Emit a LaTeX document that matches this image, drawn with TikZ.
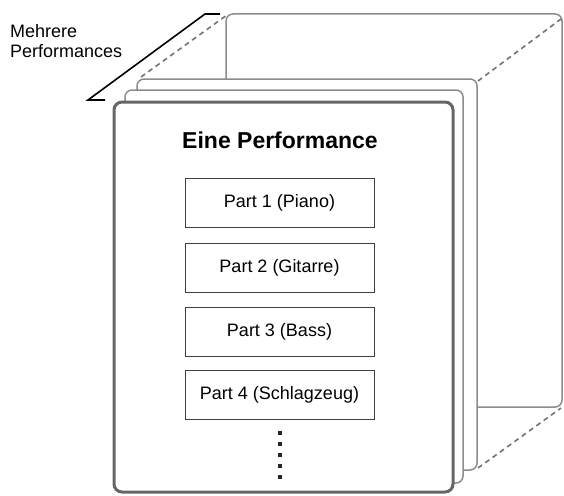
\documentclass[tikz,border=0pt]{standalone}
\usepackage{fontspec}
\setmainfont{Liberation Sans}
\begin{document}
\begin{tikzpicture}[x=1pt,y=-1pt,
  panel/.style={draw=black!45,line width=1.5pt,fill=white,rounded corners=7pt},
  frontpanel/.style={draw=black!60,line width=3pt,fill=white,rounded corners=8pt},
  linkdash/.style={draw=black!55,line width=1.6pt,dash pattern=on 5pt off 4pt},
  partbox/.style={draw=black!75,line width=0.9pt,minimum width=189pt,minimum height=49pt,inner sep=0pt,font=\fontsize{18}{20}\selectfont},
  dotsq/.style={fill=black!85,minimum size=4.5pt,inner sep=0pt},
  label/.style={font=\fontsize{18}{20}\selectfont,align=left,inner sep=0pt}]
\useasboundingbox (0,0) rectangle (564,495);
% back panel
\draw[panel] (226,79) -- (226,14) -- (562,14) -- (562,407) -- (477,407);
\coordinate (b1) at (227,15);
\coordinate (b2) at (561,19);
\coordinate (b3) at (561,408);
% third panel
\draw[panel] (137,470) rectangle (477,79);
\coordinate (t1) at (141,77);
\coordinate (t2) at (478,81);
\coordinate (t3) at (478,468);
\draw[linkdash] (t1) -- (b1);
\draw[linkdash] (t2) -- (b2);
\draw[linkdash] (t3) -- (b3);
% second panel
\draw[panel] (125,483) rectangle (463,90);
% front panel
\draw[frontpanel] (114,492) rectangle (453,102);
% bracket
\coordinate (k1) at (88,100);
\coordinate (k2) at (105,100);
\coordinate (k3) at (205,14);
\coordinate (k4) at (220,14);
\draw[black,line width=1.6pt] (k2) -- (k1) -- (k3) -- (k4);
\node[label,anchor=north west] (mp) at (10,24) {Mehrere\\[0pt]Performances};
\node[font=\fontsize{23}{26}\selectfont\bfseries,anchor=base] (title) at (280,148) {Eine Performance};
\node[partbox] (p1) at (279.5,202.5) {Part 1 (Piano)};
\node[partbox] (p2) at (279.5,267.5) {Part 2 (Gitarre)};
\node[partbox] (p3) at (279.5,331.5) {Part 3 (Bass)};
\node[partbox] (p4) at (279.5,394.5) {Part 4 (Schlagzeug)};
\node[dotsq] (d1) at (280,433) {};
\node[dotsq] (d2) at (280,444) {};
\node[dotsq] (d3) at (280,455) {};
\node[dotsq] (d4) at (280,466) {};
\node[dotsq] (d5) at (280,477) {};
\end{tikzpicture}
\end{document}
